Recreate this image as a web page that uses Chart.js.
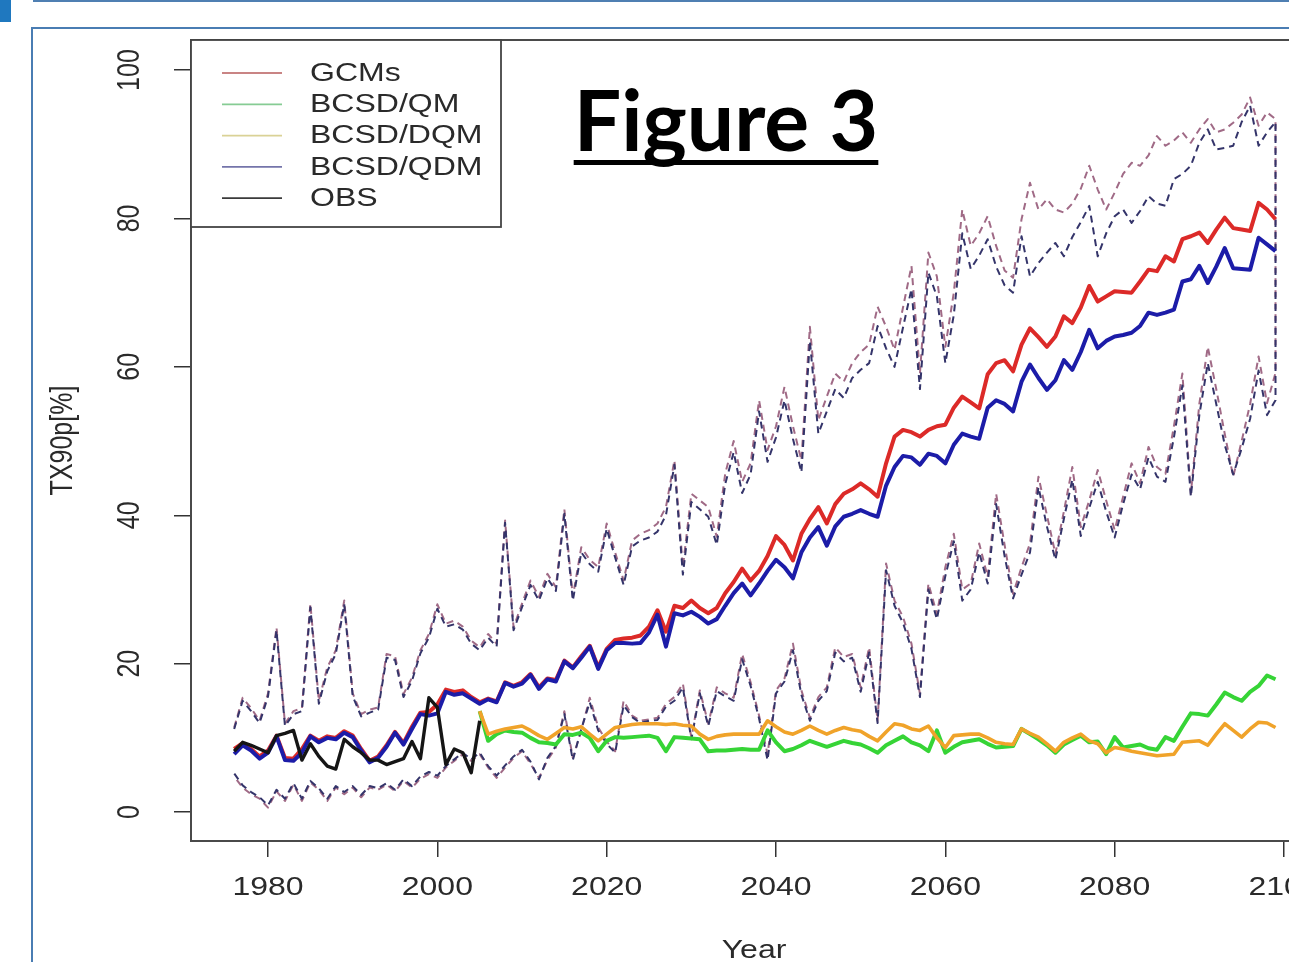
<!DOCTYPE html>
<html>
<head>
<meta charset="utf-8">
<title>Figure 3</title>
<script src="https://cdn.jsdelivr.net/npm/chart.js@4.4.1/dist/chart.umd.min.js"></script>
<style>
  html, body { margin: 0; padding: 0; background: #fff; width: 1289px; height: 962px; overflow: hidden; }
  #mark { position: absolute; left: 0; top: 0; width: 11px; height: 22px; background: #1f78bf; }
  #topline { position: absolute; left: 33px; top: 0; width: 1300px; height: 2px; background: #4f7fb2; }
  #frame { position: absolute; left: 31px; top: 27px; width: 1320px; height: 1000px; border: 2px solid #4a7db3; }
  #c { position: absolute; left: 0; top: 0; }
  #title { position: absolute; left: 726px; top: 77px; transform: translateX(-50%);
    font: bold 84px Lato, "Open Sans", sans-serif; line-height: 84px; color: #000; white-space: nowrap;
    text-decoration: underline; text-decoration-thickness: 5px; text-underline-offset: 9px;
    text-decoration-skip-ink: none; }
</style>
</head>
<body>
<div id="mark"></div>
<div id="topline"></div>
<div id="frame"></div>
<canvas id="c" width="1340" height="962"></canvas>
<div id="title">Figure 3</div>
<script>
// annual values 1976-2099
const firstYear = 1976;
const years = Array.from({ length: 124 }, (_, i) => firstYear + i);
const obsYears = years.slice(0, 30);      // 1976-2005
const bcsdYears = years.slice(29);        // 2005-2099

const xTicks = [1980, 2000, 2020, 2040, 2060, 2080, 2100];
const yTicks = [0, 20, 40, 60, 80, 100];
const legendNames = ["GCMs", "BCSD/QM", "BCSD/DQM", "BCSD/QDM", "OBS"];

// GCMs median
const gcm = [
  8.5, 9.3, 8.5, 7.5, 8.3, 10.3, 7.3, 7.2, 8.5, 10.3,
  9.6, 10.2, 10.0, 10.9, 10.3, 8.5, 6.9, 7.5, 9.0, 10.8,
  9.3, 11.5, 13.4, 13.5, 14.5, 16.5, 16.2, 16.4, 15.5, 14.8,
  15.3, 14.9, 17.5, 17.0, 17.5, 18.6, 16.8, 18.0, 17.8, 20.4,
  19.5, 21.0, 22.4, 19.5, 22.0, 23.2, 23.4, 23.5, 23.8, 25.0,
  27.2, 24.3, 27.8, 27.5, 28.5, 27.5, 26.8, 27.5, 29.5, 31.0,
  32.8, 31.2, 32.5, 34.5, 37.2, 36.0, 33.9, 37.5, 39.5, 41.1,
  38.9, 41.5, 42.9, 43.5, 44.3, 43.5, 42.5, 47.0, 50.6, 51.5,
  51.2, 50.6, 51.5, 52.0, 52.2, 54.5, 56.0, 55.2, 54.4, 59.0,
  60.5, 60.9, 59.4, 63.0, 65.2, 64.0, 62.7, 64.1, 66.8, 65.9,
  68.0, 70.9, 68.8, 69.5, 70.2, 70.1, 70.0, 71.5, 73.1, 72.9,
  74.9, 74.2, 77.2, 77.6, 78.1, 76.7, 78.5, 80.1, 78.7, 78.5,
  78.3, 82.1, 81.2, 79.9
];
const gcmUpper = [
  11.4, 15.4, 14.0, 12.3, 16.0, 24.9, 11.9, 13.6, 14.0, 28.1,
  15.0, 19.5, 21.8, 28.5, 16.0, 13.2, 13.8, 14.1, 21.3, 21.0,
  15.9, 18.1, 21.8, 24.0, 28.0, 25.4, 25.8, 25.0, 23.1, 22.2,
  24.0, 22.7, 39.3, 24.9, 28.1, 31.2, 29.0, 32.1, 30.3, 40.8,
  29.0, 35.7, 34.0, 33.0, 38.9, 35.0, 31.2, 36.6, 37.5, 38.0,
  38.9, 41.1, 47.4, 33.0, 42.9, 42.0, 41.1, 37.1, 45.6, 50.0,
  44.5, 47.0, 55.5, 48.8, 52.0, 57.3, 52.0, 47.4, 65.4, 52.8,
  56.0, 59.1, 58.0, 60.5, 62.0, 63.0, 68.1, 65.4, 62.3, 68.0,
  73.6, 59.1, 75.4, 72.2, 62.7, 70.0, 81.2, 76.3, 78.0, 80.3,
  76.3, 73.0, 72.0, 79.9, 84.8, 81.2, 82.6, 81.2, 80.8, 82.0,
  84.0, 87.1, 83.9, 81.2, 83.5, 86.0, 87.5, 87.1, 88.5, 91.1,
  89.8, 90.5, 91.6, 90.2, 92.0, 93.4, 91.6, 92.0, 92.9, 94.0,
  96.3, 92.5, 94.3, 93.4
];
const gcmLower = [
  4.8, 3.3, 2.4, 1.8, 0.6, 2.8, 1.5, 3.7, 1.5, 4.0,
  3.0, 1.5, 3.3, 2.4, 3.3, 2.0, 3.3, 3.0, 3.7, 2.8,
  4.2, 3.3, 4.5, 5.1, 4.6, 6.0, 6.9, 7.8, 6.9, 7.8,
  6.0, 4.6, 6.0, 7.3, 8.2, 6.5, 4.6, 7.0, 8.7, 13.6,
  7.3, 11.0, 15.4, 11.4, 9.5, 8.2, 15.0, 13.0, 12.3, 12.5,
  12.7, 14.6, 15.5, 17.3, 10.0, 16.4, 11.9, 16.8, 16.0, 15.4,
  21.3, 17.5, 13.0, 7.8, 16.4, 18.0, 22.7, 16.4, 12.7, 15.5,
  16.8, 22.2, 20.9, 21.3, 16.8, 22.2, 12.3, 33.5, 28.5, 26.3,
  22.7, 15.9, 30.8, 26.7, 33.0, 37.5, 30.0, 30.8, 36.2, 31.7,
  42.9, 36.0, 29.4, 33.0, 36.2, 45.2, 40.0, 34.8, 40.5, 46.5,
  38.4, 42.0, 46.1, 42.0, 38.0, 42.5, 47.0, 44.3, 49.2, 46.5,
  45.6, 52.0, 59.1, 42.9, 55.0, 62.7, 57.0, 51.0, 45.2, 50.0,
  55.0, 61.4, 55.1, 59.2
];

// BCSD/QDM median and range
const qdm = [
  7.8, 9.0, 8.3, 7.2, 8.0, 10.2, 7.0, 6.9, 8.0, 10.2,
  9.4, 10.0, 9.8, 10.7, 10.1, 8.3, 6.7, 7.3, 8.8, 10.7,
  9.1, 11.2, 13.2, 13.0, 13.3, 16.2, 15.8, 16.0, 15.3, 14.6,
  15.2, 14.8, 17.4, 16.9, 17.3, 18.5, 16.6, 17.9, 17.6, 20.3,
  19.4, 20.8, 22.3, 19.3, 21.8, 22.8, 22.8, 22.7, 22.8, 24.2,
  26.6, 22.3, 26.8, 26.5, 27.0, 26.3, 25.4, 26.0, 27.8, 29.5,
  30.8, 29.2, 30.8, 32.5, 34.0, 33.0, 31.5, 35.0, 37.0, 38.4,
  35.9, 38.5, 39.8, 40.2, 40.7, 40.2, 39.8, 44.0, 46.5, 48.0,
  47.8, 46.8, 48.3, 48.0, 47.0, 49.5, 51.0, 50.6, 50.3, 54.5,
  55.5, 55.0, 54.0, 58.0, 60.3, 58.5, 56.9, 58.2, 60.9, 59.6,
  62.0, 65.0, 62.5, 63.5, 64.1, 64.3, 64.6, 65.5, 67.3, 67.0,
  67.3, 67.7, 71.5, 71.8, 73.6, 71.3, 73.5, 76.0, 73.3, 73.2,
  73.1, 77.4, 76.5, 75.6
];
const qdmUpper = [
  11.2, 15.0, 13.6, 12.0, 15.6, 24.5, 11.6, 13.2, 13.6, 27.6,
  14.6, 19.0, 21.3, 28.0, 15.6, 12.9, 13.4, 13.8, 20.8, 20.5,
  15.5, 17.7, 21.4, 23.5, 27.4, 25.0, 25.3, 24.6, 22.7, 21.8,
  23.5, 22.3, 39.0, 24.5, 27.6, 30.6, 28.5, 31.5, 29.8, 40.2,
  28.5, 35.0, 33.4, 32.4, 38.2, 34.3, 30.6, 35.8, 36.6, 37.0,
  37.8, 40.0, 46.8, 32.0, 41.8, 40.8, 39.8, 36.0, 44.2, 48.5,
  43.0, 45.5, 54.0, 47.2, 50.5, 55.5, 50.3, 45.8, 63.5, 51.0,
  54.0, 57.0, 55.8, 58.5, 59.6, 60.5, 65.5, 62.5, 60.0, 65.3,
  70.5, 57.0, 72.7, 69.5, 60.5, 67.0, 78.0, 73.2, 75.0, 77.2,
  73.5, 71.0, 70.0, 77.6, 72.2, 74.0, 75.4, 76.7, 74.9, 77.5,
  79.5, 81.7, 74.9, 78.0, 80.3, 81.2, 79.4, 81.0, 83.0, 82.0,
  81.7, 85.3, 86.0, 87.1, 90.2, 92.0, 89.3, 89.5, 89.8, 93.0,
  95.2, 89.8, 91.6, 93.0
];
const qdmLower = [
  5.2, 3.6, 2.7, 2.0, 0.9, 3.0, 1.8, 3.9, 1.8, 4.2,
  3.2, 1.8, 3.5, 2.7, 3.5, 2.3, 3.5, 3.2, 3.9, 3.0,
  4.4, 3.5, 4.8, 5.4, 4.9, 6.2, 7.1, 8.0, 7.1, 8.0,
  6.2, 4.9, 6.3, 7.5, 8.4, 6.8, 4.4, 7.3, 8.9, 13.2,
  7.0, 11.2, 14.8, 11.0, 9.2, 8.0, 14.4, 12.8, 12.0, 12.3,
  12.4, 14.2, 15.0, 16.8, 9.8, 16.0, 11.6, 16.3, 15.6, 15.0,
  20.6, 17.0, 12.6, 7.0, 16.0, 17.6, 21.8, 15.8, 12.3, 15.0,
  16.3, 21.5, 20.3, 20.8, 16.2, 21.5, 12.0, 32.6, 27.8, 25.5,
  22.0, 15.5, 30.0, 26.0, 31.8, 36.5, 28.5, 30.0, 35.0, 30.8,
  41.5, 34.5, 28.8, 32.0, 35.0, 43.8, 38.5, 34.0, 39.5, 44.8,
  37.2, 41.0, 44.5, 40.5, 37.0, 41.5, 45.5, 43.5, 47.8, 45.2,
  44.5, 50.5, 57.5, 42.5, 53.5, 60.5, 55.0, 49.5, 45.5, 49.0,
  53.0, 59.5, 53.5, 55.5
];

// BCSD/QM and BCSD/DQM, 2005-2099
const qm = [
  13.6, 9.6, 10.5, 11.0, 10.8, 10.7, 10.0, 9.4, 9.3, 9.1,
  10.5, 10.4, 10.7, 10.0, 8.2, 9.6, 10.1, 10.0, 10.1, 10.2,
  10.3, 10.0, 8.2, 10.1, 10.0, 9.9, 9.8, 8.2, 8.3, 8.3,
  8.4, 8.5, 8.4, 8.4, 11.0, 9.4, 8.2, 8.5, 9.0, 9.6,
  9.2, 8.8, 9.2, 9.6, 9.3, 9.1, 8.6, 8.0, 9.0, 9.6,
  10.2, 9.4, 9.0, 8.2, 11.0, 8.0, 8.8, 9.4, 9.6, 9.8,
  9.2, 8.7, 8.8, 8.9, 11.2, 10.5, 9.8, 9.0, 8.0, 9.1,
  9.7, 10.3, 9.4, 9.5, 7.8, 10.1, 8.7, 8.9, 9.1, 8.6,
  8.4, 10.1, 9.6, 11.5, 13.3, 13.2, 13.0, 14.5, 16.1, 15.5,
  15.0, 16.2, 17.0, 18.4, 17.9
];
const dqm = [
  13.6, 10.5, 10.9, 11.2, 11.4, 11.6, 11.0, 10.3, 9.8, 10.6,
  11.4, 11.2, 11.5, 10.5, 9.6, 10.5, 11.4, 11.6, 11.8, 11.9,
  11.9, 11.9, 11.8, 11.9, 11.7, 11.6, 10.5, 9.8, 10.2, 10.4,
  10.5, 10.5, 10.5, 10.5, 12.3, 11.5, 10.8, 10.5, 11.0, 11.6,
  11.0, 10.5, 11.0, 11.4, 11.1, 10.9, 10.2, 9.6, 10.8, 11.9,
  11.7, 11.2, 11.0, 11.6, 10.0, 8.7, 10.3, 10.4, 10.5, 10.5,
  10.0, 9.4, 9.2, 9.1, 11.2, 10.6, 10.1, 9.2, 8.2, 9.4,
  10.0, 10.5, 9.6, 9.2, 8.0, 8.7, 8.5, 8.2, 8.0, 7.8,
  7.6, 7.7, 7.8, 9.4, 9.5, 9.6, 9.0, 10.5, 11.9, 11.0,
  10.1, 11.2, 12.1, 12.0, 11.4
];

// observations 1976-2005
const obs = [
  8.2, 9.4, 9.0, 8.5, 8.0, 10.3, 10.6, 11.0, 7.0, 9.2,
  7.5, 6.2, 5.8, 9.8, 8.8, 8.0, 7.0, 7.0, 6.4, 6.8,
  7.2, 9.5, 7.2, 15.4, 14.1, 6.4, 8.5, 8.0, 5.3, 12.3
];

function pts(xs, ys) {
  return xs.map((x, i) => ({ x: x, y: ys[i] }));
}
// range drawn as one closed dashed outline: upper forward, lower backward
function band(upper, lower) {
  return pts(years, upper).concat(pts(years, lower).reverse());
}

const SX = 1.28;   // the picture is stretched sideways
function sText(ctx, txt, x, y, rot) {
  ctx.save();
  ctx.translate(x, y);
  ctx.scale(SX, 1);
  if (rot) ctx.rotate(rot);
  ctx.fillText(txt, 0, 0);
  ctx.restore();
}

const legendColors = ["#c98484", "#86cc94", "#dad296", "#7474aa", "#3a3a3a"];

const rPlot = {
  id: "rPlot",
  afterDraw(chart) {
    const ctx = chart.ctx, a = chart.chartArea;
    const xs = chart.scales.x, ys = chart.scales.y;
    ctx.save();
    ctx.strokeStyle = "#4a4a4a";
    ctx.lineWidth = 2;
    ctx.strokeRect(a.left, a.top, a.right - a.left, a.bottom - a.top);

    ctx.fillStyle = "#2a2a2a";
    ctx.font = '25px "Liberation Sans", Arial, sans-serif';
    ctx.textAlign = "center";
    ctx.textBaseline = "middle";
    xTicks.forEach(t => sText(ctx, String(t), xs.getPixelForValue(t), 888, 0));
    yTicks.forEach(t => sText(ctx, String(t), 130, ys.getPixelForValue(t), -Math.PI / 2));
    sText(ctx, "Year", (a.left + a.right) / 2, 951, 0);
    sText(ctx, "TX90p[%]", 63, (a.top + a.bottom) / 2, -Math.PI / 2);

    // legend box, top-left corner of the plot
    const lx = a.left, ly = a.top, lw = 310, lh = 187;
    ctx.fillStyle = "#fff";
    ctx.fillRect(lx, ly, lw, lh);
    ctx.strokeStyle = "#444";
    ctx.lineWidth = 1.8;
    ctx.strokeRect(lx, ly, lw, lh);
    ctx.textAlign = "left";
    legendNames.forEach((name, i) => {
      const y = ly + 33 + i * 31.3;
      ctx.strokeStyle = legendColors[i];
      ctx.lineWidth = 1.8;
      ctx.beginPath();
      ctx.moveTo(lx + 31, y);
      ctx.lineTo(lx + 91, y);
      ctx.stroke();
      ctx.fillStyle = "#2a2a2a";
      sText(ctx, name, lx + 119, y + 1, 0);
    });
    ctx.restore();
  }
};

new Chart(document.getElementById("c"), {
  type: "line",
  data: {
    datasets: [
      { label: "GCMs range", data: band(gcmUpper, gcmLower), borderColor: "#a06a86",
        borderWidth: 2, borderDash: [7, 5], order: 7 },
      { label: "BCSD/QDM range", data: band(qdmUpper, qdmLower), borderColor: "#34346a",
        borderWidth: 2, borderDash: [7, 5], order: 6 },
      { label: "GCMs", data: pts(years, gcm), borderColor: "#dc2a28", borderWidth: 4, order: 5 },
      { label: "BCSD/QM", data: pts(bcsdYears, qm), borderColor: "#36d436", borderWidth: 4, order: 4 },
      { label: "BCSD/DQM", data: pts(bcsdYears, dqm), borderColor: "#f0a32a", borderWidth: 3.6, order: 3 },
      { label: "BCSD/QDM", data: pts(years, qdm), borderColor: "#1c1ca8", borderWidth: 4, order: 2 },
      { label: "OBS", data: pts(obsYears, obs), borderColor: "#151515", borderWidth: 3.4, order: 1 }
    ]
  },
  options: {
    responsive: false,
    animation: false,
    devicePixelRatio: 1,
    layout: { padding: { top: 40, right: 23, left: 0, bottom: 0 } },
    plugins: { legend: { display: false }, tooltip: { enabled: false } },
    elements: {
      point: { radius: 0 },
      line: { tension: 0, borderJoinStyle: "round", fill: false }
    },
    scales: {
      x: {
        type: "linear", min: 1970.9, max: 2103.9,
        afterBuildTicks: s => { s.ticks = xTicks.map(v => ({ value: v })); },
        afterFit: s => { s.height = 121; },
        ticks: { display: false },
        grid: { drawOnChartArea: false, drawTicks: true, tickLength: 16, color: "#333", lineWidth: 1.5 },
        border: { display: false }
      },
      y: {
        type: "linear", min: -3.9, max: 104.05,
        afterBuildTicks: s => { s.ticks = yTicks.map(v => ({ value: v })); },
        afterFit: s => { s.width = 191; },
        ticks: { display: false },
        grid: { drawOnChartArea: false, drawTicks: true, tickLength: 17, color: "#333", lineWidth: 1.5 },
        border: { display: false }
      }
    }
  },
  plugins: [rPlot]
});
</script>
</body>
</html>
